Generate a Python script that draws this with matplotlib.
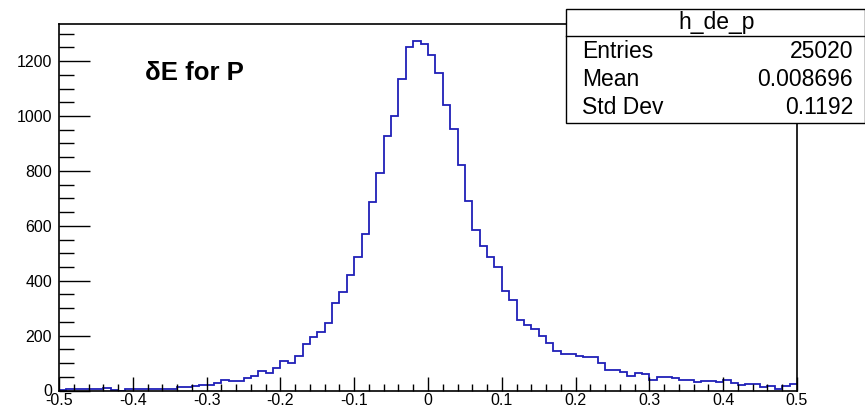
import numpy as np
import matplotlib
matplotlib.use("Agg")
import matplotlib.pyplot as plt
from matplotlib.ticker import MultipleLocator
from matplotlib.patches import Rectangle
from matplotlib.lines import Line2D

plt.rcParams['font.family'] = ['Liberation Sans', 'DejaVu Sans']
plt.rcParams['axes.unicode_minus'] = False

# Histogramm h_de_p: 100 Bins von -0.5 bis 0.5
bin_edges = np.linspace(-0.5, 0.5, 101)
counts = [
    2, 4, 4, 4, 4, 4, 9, 3, 0, 4,
    4, 4, 7, 7, 7, 7, 14, 14, 16, 21,
    21, 26, 38, 35, 35, 44, 54, 71, 65, 81,
    106, 101, 127, 168, 194, 213, 246, 317, 360, 421,
    487, 571, 688, 791, 928, 1001, 1136, 1252, 1273, 1262,
    1222, 1155, 1041, 954, 820, 691, 585, 526, 485, 449,
    364, 328, 256, 237, 224, 199, 174, 143, 133, 132,
    127, 122, 122, 101, 76, 76, 67, 54, 65, 61,
    39, 49, 49, 44, 39, 39, 30, 35, 35, 30,
    40, 29, 20, 24, 24, 14, 18, 7, 18, 22,
]
x_tick_labels = ["-0.5", "-0.4", "-0.3", "-0.2", "-0.1", "0", "0.1", "0.2", "0.3", "0.4", "0.5"]

stat_names = ["Entries", "Mean", "Std Dev"]
stat_values = ["25020", "0.008696", "0.1192"]
hist_name = "h_de_p"

W, H = 865, 408
fig = plt.figure(figsize=(W / 100, H / 100), dpi=100)
ax = fig.add_axes([59 / W, 1 - 390.5 / H, (797 - 59) / W, (390.5 - 24) / H])

ax.stairs(counts, bin_edges, baseline=None, color="#2020b8", linewidth=1.3)

ax.set_xlim(-0.5, 0.5)
ax.set_ylim(0, 1335)
ax.xaxis.set_minor_locator(MultipleLocator(0.02))
ax.yaxis.set_major_locator(MultipleLocator(200))
ax.yaxis.set_minor_locator(MultipleLocator(50))
ax.set_xticks(np.round(np.arange(-0.5, 0.51, 0.1), 1))
ax.set_xticklabels(x_tick_labels)

ax.tick_params(axis="both", which="both", direction="in", top=False, right=False,
               labelsize=11.5, width=1.0, color="black")
ax.tick_params(axis="x", which="major", length=10, pad=1.5)
ax.tick_params(axis="x", which="minor", length=5)
ax.tick_params(axis="y", which="major", length=22, pad=5)
ax.tick_params(axis="y", which="minor", length=11)
for s in ax.spines.values():
    s.set_linewidth(1.2)

ax.text(0.1165, 0.847, "\u03b4E for P", transform=ax.transAxes,
        fontsize=18.5, fontweight="bold", ha="left", va="baseline")

# Statistik-Box oben rechts
bx0, bx1 = 566 / W, 864.5 / W
by_top, by_mid, by_bot = 1 - 9 / H, 1 - 36 / H, 1 - 123 / H
fig.patches.append(Rectangle((bx0, by_bot), bx1 - bx0, by_top - by_bot,
                             transform=fig.transFigure, facecolor="white",
                             edgecolor="black", linewidth=1.0, zorder=5))
fig.lines.append(Line2D([bx0, bx1], [by_mid, by_mid], transform=fig.transFigure,
                        color="black", linewidth=1.0, zorder=6))
fig.text(717 / W, 1 - 22.5 / H, hist_name, ha="center", va="center",
         fontsize=16.5, zorder=7)
row_y = [52, 80, 108]
for name, val, yy in zip(stat_names, stat_values, row_y):
    fig.text(582 / W, 1 - yy / H, name, ha="left", va="center", fontsize=16.5, zorder=7)
    fig.text(853 / W, 1 - yy / H, val, ha="right", va="center", fontsize=16.5, zorder=7)

fig.savefig("out.png", dpi=100)
